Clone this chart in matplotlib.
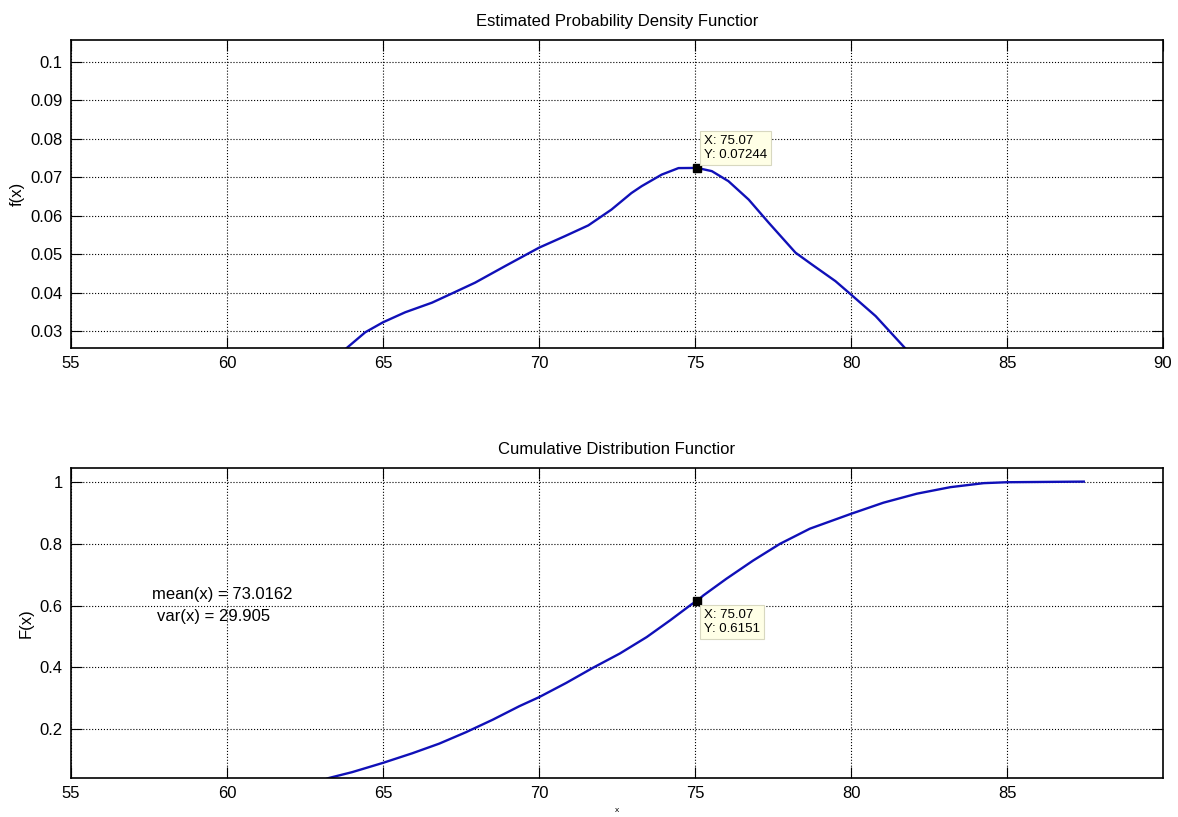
import matplotlib
matplotlib.use("Agg")
import matplotlib.pyplot as plt
from matplotlib.ticker import FuncFormatter

plt.rcParams['font.family'] = ['Liberation Sans', 'DejaVu Sans']

# estimated density
pdf_x = [63.6, 63.82, 64.43, 65.0, 65.71, 66.57, 67.21, 67.95, 68.91, 70.0, 70.83, 71.58,
         72.32, 72.96, 73.29, 73.93, 74.47, 75.07, 75.54, 76.07, 76.72, 77.36, 78.22,
         78.75, 79.5, 80.0, 80.79, 81.74, 81.85]
pdf_y = [0.0245, 0.0255, 0.0297, 0.0323, 0.0349, 0.0374, 0.0398, 0.0426, 0.0469, 0.0517, 0.0547, 0.0575,
         0.0616, 0.0659, 0.0677, 0.0707, 0.0724, 0.07244, 0.0716, 0.0690, 0.0642, 0.0582, 0.0504,
         0.0473, 0.0430, 0.0395, 0.0339, 0.0255, 0.0245]

# cumulative distribution
cdf_x = [63.1, 63.26, 64.01, 65.0, 65.94, 66.8, 67.66, 68.51, 69.37, 70.0, 70.87, 71.73,
         72.59, 73.45, 74.2, 74.89, 75.07, 75.26, 76.0, 76.86, 77.72, 78.68, 80.0, 81.04,
         82.11, 83.18, 84.25, 85.0, 87.46]
cdf_y = [0.037, 0.043, 0.062, 0.092, 0.123, 0.154, 0.191, 0.231, 0.275, 0.304, 0.350, 0.399,
         0.445, 0.498, 0.552, 0.604, 0.6151, 0.632, 0.686, 0.745, 0.799, 0.848, 0.896, 0.932,
         0.961, 0.982, 0.995, 0.998, 1.0]

tip_x = 75.07
tip_pdf = 0.07244
tip_cdf = 0.6151
mean_x = 73.0162
var_x = 29.905

line_col = '#1010b8'
tip_font = ['Liberation Sans Narrow', 'Liberation Sans', 'DejaVu Sans']

fig = plt.figure(figsize=(11.78, 8.17), dpi=100)
ax1 = fig.add_axes([0.0603, 0.574, 0.927, 0.377])
ax2 = fig.add_axes([0.0603, 0.0477, 0.927, 0.3795])

for ax in (ax1, ax2):
    ax.grid(True, linestyle=':', color='black', linewidth=0.8)
    ax.tick_params(direction='in', top=True, right=True, length=8, width=0.8,
                   labelsize=12, pad=6)
    for s in ax.spines.values():
        s.set_linewidth(1.2)
    ax.yaxis.set_major_formatter(FuncFormatter(lambda v, p: '%g' % v))

# top panel
ax1.plot(pdf_x, pdf_y, color=line_col, linewidth=1.7)
ax1.plot([tip_x], [tip_pdf], 's', color='black', markersize=6)
ax1.set_xlim(55, 90)
ax1.set_ylim(0.0256, 0.1057)
ax1.set_xticks([55, 60, 65, 70, 75, 80, 85, 90])
ax1.set_yticks([0.03, 0.04, 0.05, 0.06, 0.07, 0.08, 0.09, 0.1])
ax1.set_title('Estimated Probability Density Functior', fontsize=12, pad=10)
ax1.set_ylabel('f(x)', fontsize=12, labelpad=4)
ax1.annotate('X: 75.07\nY: 0.07244', xy=(tip_x, tip_pdf), xytext=(5, 5),
             textcoords='offset points', ha='left', va='bottom', fontsize=9.5,
             family=tip_font,
             bbox=dict(boxstyle='square,pad=0.3', fc='#ffffe6', ec='#d8d8c0', lw=0.8))

# bottom panel
ax2.plot(cdf_x, cdf_y, color=line_col, linewidth=1.7)
ax2.plot([tip_x], [tip_cdf], 's', color='black', markersize=6)
ax2.set_xlim(55, 90)
ax2.set_ylim(0.043, 1.044)
ax2.set_xticks([55, 60, 65, 70, 75, 80, 85])
ax2.set_yticks([0.2, 0.4, 0.6, 0.8, 1.0])
ax2.set_title('Cumulative Distribution Functior', fontsize=12, pad=10)
ax2.set_ylabel('F(x)', fontsize=12, labelpad=4)
ax2.set_xlabel('x', fontsize=6, labelpad=4)
ax2.annotate('X: 75.07\nY: 0.6151', xy=(tip_x, tip_cdf), xytext=(5, -6),
             textcoords='offset points', ha='left', va='top', fontsize=9.5,
             family=tip_font,
             bbox=dict(boxstyle='square,pad=0.3', fc='#ffffe6', ec='#d8d8c0', lw=0.8))
ax2.text(57.6, 0.634, 'mean(x) = %g' % mean_x, fontsize=12, va='center')
ax2.text(57.75, 0.566, 'var(x) = %g' % var_x, fontsize=12, va='center')

fig.savefig('out.png', dpi=100)
